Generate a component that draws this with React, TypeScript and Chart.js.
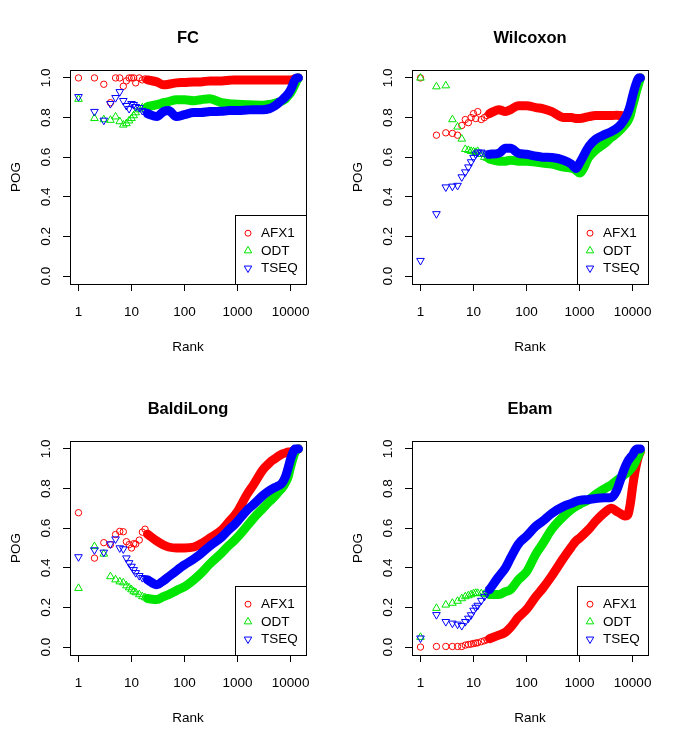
import React, { useEffect, useRef } from "react";
import { Chart, registerables } from "chart.js";

Chart.register(...registerables);

const FONT = "'Liberation Sans', Arial, Helvetica, sans-serif";

const SERIES_NAMES = ["AFX1", "ODT", "TSEQ"];
const SERIES_COLORS = ["#FF0000", "#00E600", "#0000FF"];
const X_TICKS = [1, 10, 100, 1000, 10000];
const X_TICK_LABELS = ["1", "10", "100", "1000", "10000"];
const Y_TICKS = [0, 0.2, 0.4, 0.6, 0.8, 1.0];
const Y_TICK_LABELS = ["0.0", "0.2", "0.4", "0.6", "0.8", "1.0"];

// ranks drawn as separate markers
const MARKER_RANKS = [1, 2, 3, 4, 5, 6, 7, 8, 9, 10, 11, 12, 14, 16, 18, 20];
const BAND_RANKS = [20, 30, 40, 50, 70, 100, 150, 200, 300, 500, 700, 850, 1000, 1500, 2000, 3000, 4000, 5000, 6000, 7000, 8000, 9000, 10000, 11000, 12000, 13000, 14000];

// ---- FC ----
const FC_AFX1_MARKERS = [1.0, 1.0, 0.968, 0.875, 1.0, 1.0, 0.958, 0.985, 1.0, 1.0, 1.0, 0.975, 1.0, 0.99, 0.995, 0.99];
const FC_AFX1_BAND = [0.99, 0.98, 0.965, 0.968, 0.975, 0.977, 0.98, 0.98, 0.985, 0.985, 0.988, 0.99, 0.99, 0.99, 0.99, 0.99, 0.99, 0.99, 0.99, 0.99, 0.99, 0.99, 0.99, 0.992, 0.995, 0.998, 1.0];
const FC_ODT_MARKERS = [0.893, 0.796, 0.79, 0.787, 0.804, 0.78, 0.763, 0.77, 0.784, 0.796, 0.81, 0.825, 0.84, 0.85, 0.85, 0.855];
const FC_ODT_BAND = [0.855, 0.865, 0.875, 0.88, 0.89, 0.89, 0.885, 0.89, 0.895, 0.875, 0.87, 0.868, 0.867, 0.865, 0.864, 0.862, 0.866, 0.872, 0.878, 0.885, 0.895, 0.91, 0.925, 0.945, 0.965, 0.985, 1.0];
const FC_TSEQ_MARKERS = [0.905, 0.83, 0.786, 0.87, 0.9, 0.93, 0.885, 0.86, 0.845, 0.87, 0.865, 0.855, 0.85, 0.835, 0.83, 0.82];
const FC_TSEQ_BAND = [0.82, 0.805, 0.83, 0.835, 0.805, 0.815, 0.825, 0.825, 0.83, 0.832, 0.835, 0.835, 0.835, 0.838, 0.84, 0.84, 0.845, 0.858, 0.875, 0.89, 0.905, 0.92, 0.94, 0.965, 0.99, 1.0, 1.0];

// ---- Wilcoxon ----
const WX_AFX1_MARKERS = [1.0, 0.711, 0.723, 0.72, 0.711, 0.76, 0.79, 0.774, 0.8, 0.82, 0.795, 0.83, 0.79, 0.8, 0.81, 0.82];
const WX_AFX1_BAND = [0.82, 0.84, 0.83, 0.84, 0.86, 0.86, 0.85, 0.845, 0.83, 0.8, 0.8, 0.795, 0.795, 0.805, 0.81, 0.81, 0.81, 0.812, 0.81, 0.808, 0.82, 0.85, 0.88, 0.92, 0.96, 0.985, 1.0];
const WX_ODT_MARKERS = [1.0, 0.956, 0.961, 0.79, 0.753, 0.692, 0.64, 0.635, 0.63, 0.628, 0.625, 0.63, 0.615, 0.6, 0.595, 0.59];
const WX_ODT_BAND = [0.59, 0.58, 0.58, 0.585, 0.58, 0.58, 0.575, 0.57, 0.565, 0.55, 0.545, 0.535, 0.52, 0.6, 0.635, 0.67, 0.7, 0.72, 0.74, 0.76, 0.78, 0.81, 0.86, 0.9, 0.94, 0.97, 1.0];
const WX_TSEQ_MARKERS = [0.078, 0.314, 0.449, 0.453, 0.457, 0.5, 0.525, 0.55, 0.576, 0.598, 0.615, 0.625, 0.625, 0.62, 0.615, 0.615];
const WX_TSEQ_BAND = [0.615, 0.62, 0.645, 0.645, 0.62, 0.615, 0.605, 0.6, 0.598, 0.585, 0.565, 0.543, 0.57, 0.655, 0.69, 0.715, 0.73, 0.745, 0.765, 0.79, 0.82, 0.86, 0.91, 0.95, 0.98, 1.0, 1.0];

// ---- BaldiLong ----
const BL_AFX1_MARKERS = [0.678, 0.449, 0.527, 0.517, 0.568, 0.584, 0.582, 0.532, 0.517, 0.5, 0.522, 0.52, 0.54, 0.58, 0.595, 0.57];
const BL_AFX1_BAND = [0.57, 0.535, 0.515, 0.505, 0.5, 0.5, 0.505, 0.52, 0.55, 0.59, 0.635, 0.66, 0.685, 0.77, 0.82, 0.895, 0.93, 0.95, 0.965, 0.975, 0.98, 0.985, 0.985, 0.99, 0.993, 0.997, 1.0];
const BL_ODT_MARKERS = [0.297, 0.508, 0.47, 0.356, 0.34, 0.33, 0.325, 0.31, 0.3, 0.29, 0.28, 0.275, 0.265, 0.255, 0.25, 0.245];
const BL_ODT_BAND = [0.245, 0.24, 0.255, 0.265, 0.285, 0.305, 0.34, 0.37, 0.42, 0.475, 0.515, 0.535, 0.555, 0.61, 0.65, 0.7, 0.735, 0.76, 0.785, 0.805, 0.83, 0.86, 0.91, 0.95, 0.98, 0.995, 1.0];
const BL_TSEQ_MARKERS = [0.455, 0.49, 0.478, 0.52, 0.545, 0.5, 0.495, 0.449, 0.425, 0.407, 0.39, 0.375, 0.36, 0.35, 0.345, 0.34];
const BL_TSEQ_BAND = [0.34, 0.315, 0.335, 0.355, 0.385, 0.415, 0.445, 0.47, 0.51, 0.555, 0.595, 0.615, 0.635, 0.69, 0.72, 0.765, 0.79, 0.805, 0.815, 0.83, 0.86, 0.905, 0.95, 0.98, 1.0, 1.0, 1.0];

// ---- Ebam ----
const EB_AFX1_MARKERS = [0.0, 0.003, 0.003, 0.003, 0.003, 0.003, 0.01, 0.013, 0.015, 0.018, 0.02, 0.022, 0.027, 0.032, 0.037, 0.042];
const EB_AFX1_BAND = [0.042, 0.06, 0.075, 0.1, 0.15, 0.19, 0.255, 0.295, 0.36, 0.45, 0.505, 0.535, 0.55, 0.595, 0.635, 0.68, 0.7, 0.685, 0.672, 0.662, 0.665, 0.72, 0.81, 0.88, 0.93, 0.965, 0.985];
const EB_ODT_MARKERS = [0.05, 0.196, 0.213, 0.222, 0.232, 0.245, 0.255, 0.26, 0.265, 0.27, 0.272, 0.272, 0.27, 0.268, 0.265, 0.265];
const EB_ODT_BAND = [0.265, 0.265, 0.28, 0.29, 0.34, 0.38, 0.47, 0.52, 0.595, 0.66, 0.695, 0.71, 0.72, 0.745, 0.77, 0.8, 0.82, 0.84, 0.855, 0.87, 0.88, 0.895, 0.91, 0.93, 0.95, 0.97, 0.99];
const EB_TSEQ_MARKERS = [0.045, 0.163, 0.128, 0.12, 0.115, 0.108, 0.128, 0.145, 0.162, 0.185, 0.2, 0.21, 0.235, 0.255, 0.27, 0.29];
const EB_TSEQ_BAND = [0.29, 0.356, 0.4, 0.45, 0.52, 0.56, 0.61, 0.635, 0.675, 0.71, 0.725, 0.735, 0.74, 0.745, 0.75, 0.753, 0.755, 0.79, 0.85, 0.9, 0.935, 0.955, 0.97, 0.99, 1.0, 1.0, 1.0];

const PANEL_TITLES = ["FC", "Wilcoxon", "BaldiLong", "Ebam"];
const PANEL_MARKERS = [
  [FC_AFX1_MARKERS, FC_ODT_MARKERS, FC_TSEQ_MARKERS],
  [WX_AFX1_MARKERS, WX_ODT_MARKERS, WX_TSEQ_MARKERS],
  [BL_AFX1_MARKERS, BL_ODT_MARKERS, BL_TSEQ_MARKERS],
  [EB_AFX1_MARKERS, EB_ODT_MARKERS, EB_TSEQ_MARKERS],
];
const PANEL_BANDS = [
  [FC_AFX1_BAND, FC_ODT_BAND, FC_TSEQ_BAND],
  [WX_AFX1_BAND, WX_ODT_BAND, WX_TSEQ_BAND],
  [BL_AFX1_BAND, BL_ODT_BAND, BL_TSEQ_BAND],
  [EB_AFX1_BAND, EB_ODT_BAND, EB_TSEQ_BAND],
];

function drawSymbol(ctx: CanvasRenderingContext2D, i: number, x: number, y: number) {
  ctx.beginPath();
  if (i === 0) {
    ctx.arc(x, y, 3, 0, Math.PI * 2);
  } else {
    const r = 4.3;
    const s = i === 2 ? -1 : 1;
    ctx.moveTo(x, y - s * r);
    ctx.lineTo(x + r * Math.sin((2 * Math.PI) / 3), y + s * r * 0.5);
    ctx.lineTo(x - r * Math.sin((2 * Math.PI) / 3), y + s * r * 0.5);
    ctx.closePath();
  }
  ctx.stroke();
}

const rPlotPlugin = {
  id: "rPlot",
  afterDatasetsDraw(chart: any) {
    const { ctx, chartArea: a, scales } = chart;
    ctx.save();
    // legend
    const bw = 71;
    const bh = 69;
    const lx = Math.round(a.right - bw) + 0.5;
    const ly = Math.round(a.bottom - bh) + 0.5;
    ctx.fillStyle = "#ffffff";
    ctx.fillRect(lx, ly, bw, bh);
    ctx.strokeStyle = "#000000";
    ctx.lineWidth = 1;
    ctx.strokeRect(lx, ly, bw, bh);
    ctx.font = `13.5px ${FONT}`;
    ctx.textAlign = "left";
    ctx.textBaseline = "middle";
    for (let i = 0; i < SERIES_NAMES.length; i++) {
      const ry = ly + 17.7 + i * 17.5;
      ctx.strokeStyle = SERIES_COLORS[i];
      ctx.lineWidth = 1;
      drawSymbol(ctx, i, lx + 12.5, ry);
      ctx.fillStyle = "#000000";
      ctx.fillText(SERIES_NAMES[i], lx + 25.5, ry + 0.5);
    }
    // plot box
    ctx.strokeStyle = "#000000";
    ctx.lineWidth = 1;
    ctx.strokeRect(Math.round(a.left) + 0.5, Math.round(a.top) + 0.5, Math.round(a.right - a.left), Math.round(a.bottom - a.top));
    // rotated y tick labels (R style)
    ctx.fillStyle = "#000000";
    ctx.font = `13.5px ${FONT}`;
    ctx.textAlign = "center";
    ctx.textBaseline = "middle";
    for (let k = 0; k < Y_TICKS.length; k++) {
      const py = scales.y.getPixelForValue(Y_TICKS[k]);
      ctx.save();
      ctx.translate(a.left - 23.5, py);
      ctx.rotate(-Math.PI / 2);
      ctx.fillText(Y_TICK_LABELS[k], 0, 0);
      ctx.restore();
    }
    ctx.restore();
  },
};

function Panel({ index, width, height }: { index: number; width: number; height: number }) {
  const ref = useRef<HTMLCanvasElement | null>(null);
  useEffect(() => {
    if (!ref.current) return;
    const datasets: any[] = [];
    for (let i = 0; i < 3; i++) {
      const color = SERIES_COLORS[i];
      datasets.push({
        label: SERIES_NAMES[i],
        data: MARKER_RANKS.map((r, k) => ({ x: r, y: PANEL_MARKERS[index][i][k] })),
        showLine: false,
        pointStyle: i === 0 ? "circle" : "triangle",
        rotation: i === 2 ? 180 : 0,
        pointRadius: i === 0 ? 3.2 : 4.4,
        pointBorderColor: color,
        pointBackgroundColor: "rgba(0,0,0,0)",
        pointBorderWidth: 1,
        order: 2 - i,
      });
      datasets.push({
        label: SERIES_NAMES[i] + " band",
        data: BAND_RANKS.map((r, k) => ({ x: r, y: PANEL_BANDS[index][i][k] })),
        showLine: true,
        borderColor: color,
        backgroundColor: color,
        borderWidth: 9,
        borderCapStyle: "round",
        borderJoinStyle: "round",
        cubicInterpolationMode: "monotone",
        pointRadius: 0,
        fill: false,
        order: 2 - i,
      });
    }
    const chart = new Chart(ref.current, {
      type: "scatter",
      data: { datasets },
      options: {
        responsive: false,
        animation: false,
        devicePixelRatio: 1,
        layout: { padding: { left: 0, right: width - 306, top: 0, bottom: 0 } },
        plugins: {
          legend: { display: false },
          tooltip: { enabled: false },
          title: {
            display: true,
            text: PANEL_TITLES[index],
            fullSize: false,
            color: "#000000",
            font: { family: FONT, size: 16.5, weight: "bold", lineHeight: 1.2 },
            padding: { top: 28.5, bottom: 21.7 },
          },
        },
        scales: {
          x: {
            type: "logarithmic",
            min: Math.pow(10, -0.16),
            max: Math.pow(10, 4.29),
            afterBuildTicks: (s: any) => {
              s.ticks = X_TICKS.map((v) => ({ value: v }));
            },
            afterFit: (s: any) => {
              s.height = height - 284;
            },
            ticks: {
              autoSkip: false,
              maxRotation: 0,
              minRotation: 0,
              padding: 13,
              color: "#000000",
              font: { family: FONT, size: 13.5 },
              callback: (_v: any, i: number) => X_TICK_LABELS[i],
            },
            grid: { drawOnChartArea: false, drawTicks: true, tickLength: 7, color: "#000000", lineWidth: 1 },
            border: { display: false },
            title: {
              display: true,
              text: "Rank",
              color: "#000000",
              font: { family: FONT, size: 13.5 },
              padding: { top: 0, bottom: 15.5 },
            },
          },
          y: {
            type: "linear",
            min: -0.04,
            max: 1.04,
            afterBuildTicks: (s: any) => {
              s.ticks = Y_TICKS.map((v) => ({ value: v }));
            },
            afterFit: (s: any) => {
              s.width = 70;
            },
            ticks: { display: false },
            grid: { drawOnChartArea: false, drawTicks: true, tickLength: 7, color: "#000000", lineWidth: 1 },
            border: { display: false },
            title: {
              display: true,
              text: "POG",
              color: "#000000",
              font: { family: FONT, size: 13.5 },
              padding: { top: 8.6, bottom: 0 },
            },
          },
        },
      } as any,
      plugins: [rPlotPlugin],
    });
    return () => chart.destroy();
  }, [index, width, height]);
  return <canvas ref={ref} width={width} height={height} style={{ display: "block", width, height }} />;
}

export default function App() {
  const cells = [
    { left: 0, top: 0, w: 342 },
    { left: 342, top: 0, w: 343 },
    { left: 0, top: 371, w: 342 },
    { left: 342, top: 371, w: 343 },
  ];
  return (
    <div style={{ position: "absolute", left: 0, top: 0, width: 685, height: 742, background: "#ffffff", fontFamily: FONT }}>
      {cells.map((c, i) => (
        <div key={i} style={{ position: "absolute", left: c.left, top: c.top, width: c.w, height: 371 }}>
          <Panel index={i} width={c.w} height={371} />
        </div>
      ))}
    </div>
  );
}
